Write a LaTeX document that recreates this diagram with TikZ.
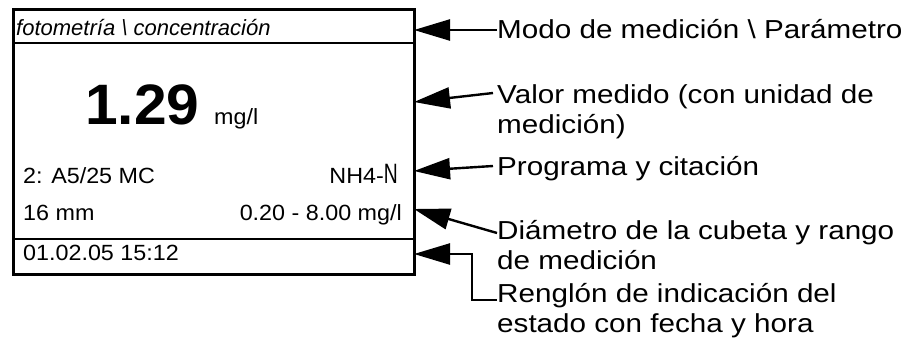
\documentclass[tikz,border=0pt]{standalone}
\usepackage{fontspec}
\setmainfont{Liberation Sans}
\newfontfamily\lblfont[FakeStretch=1.14]{Liberation Sans}
\newfontfamily\boxfont[FakeStretch=1.06]{Liberation Sans}
\newfontfamily\hdrfont[FakeStretch=1.0]{Liberation Sans}
\newfontfamily\bigfont[FakeStretch=1.03]{Liberation Sans}
\usetikzlibrary{arrows.meta}
\begin{document}
\begin{tikzpicture}[x=1pt,y=-1pt,
  arr/.style={line width=2.4pt,-{Triangle[length=36pt,width=21pt]}},
  lbl/.style={inner sep=0pt,anchor=base west,font=\lblfont\fontsize{26pt}{30.5pt}\selectfont},
  txt/.style={inner sep=0pt,font=\boxfont\fontsize{22pt}{26pt}\selectfont},
  sep/.style={line width=1.1pt}]
\useasboundingbox (0,0) rectangle (917,351);
% display
\node[draw,line width=3pt,minimum width=401pt,minimum height=265pt,anchor=north west,inner sep=0pt] (box) at (12,8) {};
\draw[sep] (box.west |- 0,43) -- (box.east |- 0,43);
\draw[sep] (box.west |- 0,239) -- (box.east |- 0,239);
\node[inner sep=0pt,anchor=base west,font=\hdrfont\itshape\fontsize{22pt}{24pt}\selectfont] (hdr) at (16,35) {fotometría \textbackslash{} concentración};
\node[inner sep=0pt,anchor=base west,font=\bigfont\bfseries\fontsize{57pt}{60pt}\selectfont] (val) at (85,124) {1.29};
\node[txt,anchor=base west] (unit) at (214,124) {mg/l};
\node[txt,anchor=base west] (prog) at (23,183) {2: A5/25 MC};
\node[txt,anchor=base east] (param) at (398,183) {NH4-{\fontsize{28pt}{28pt}\selectfont\scalebox{0.65}[1]{N}}};
\node[txt,anchor=base west] (diam) at (23,220) {16 mm};
\node[txt,anchor=base east] (range) at (402,220) {0.20 - 8.00 mg/l};
\node[txt,anchor=base west] (date) at (23,260) {01.02.05 15:12};
% labels
\node[lbl] (L1) at (497,38) {Modo de medición \textbackslash{} Parámetro};
\node[lbl] (L2) at (497,103) {\begin{tabular}[t]{@{}l@{}}Valor medido (con unidad de\\medición)\end{tabular}};
\node[lbl] (L3) at (497,175) {Programa y citación};
\node[lbl] (L4) at (497,239) {\begin{tabular}[t]{@{}l@{}}Diámetro de la cubeta y rango\\de medición\end{tabular}};
\node[lbl] (L5) at (497,302) {\begin{tabular}[t]{@{}l@{}}Renglón de indicación del\\estado con fecha y hora\end{tabular}};
% arrow ends
\coordinate (t1) at (414,30);
\coordinate (t2) at (414,102);
\coordinate (t3) at (414,171);
\coordinate (t4) at (414,209);
\coordinate (t5) at (414,254);
\coordinate (c5) at (472,254);
\draw[arr] ([yshift=8pt]L1.base west) -- (t1);
\draw[arr] ([xshift=-4pt,yshift=10pt]L2.base west) -- (t2);
\draw[arr] ([xshift=-4pt,yshift=9pt]L3.base west) -- (t3);
\draw[arr] ([yshift=6pt]L4.base west) -- (t4);
\draw[arr] ([yshift=2pt]L5.base west) -| (c5) -- (t5);
\end{tikzpicture}
\end{document}
